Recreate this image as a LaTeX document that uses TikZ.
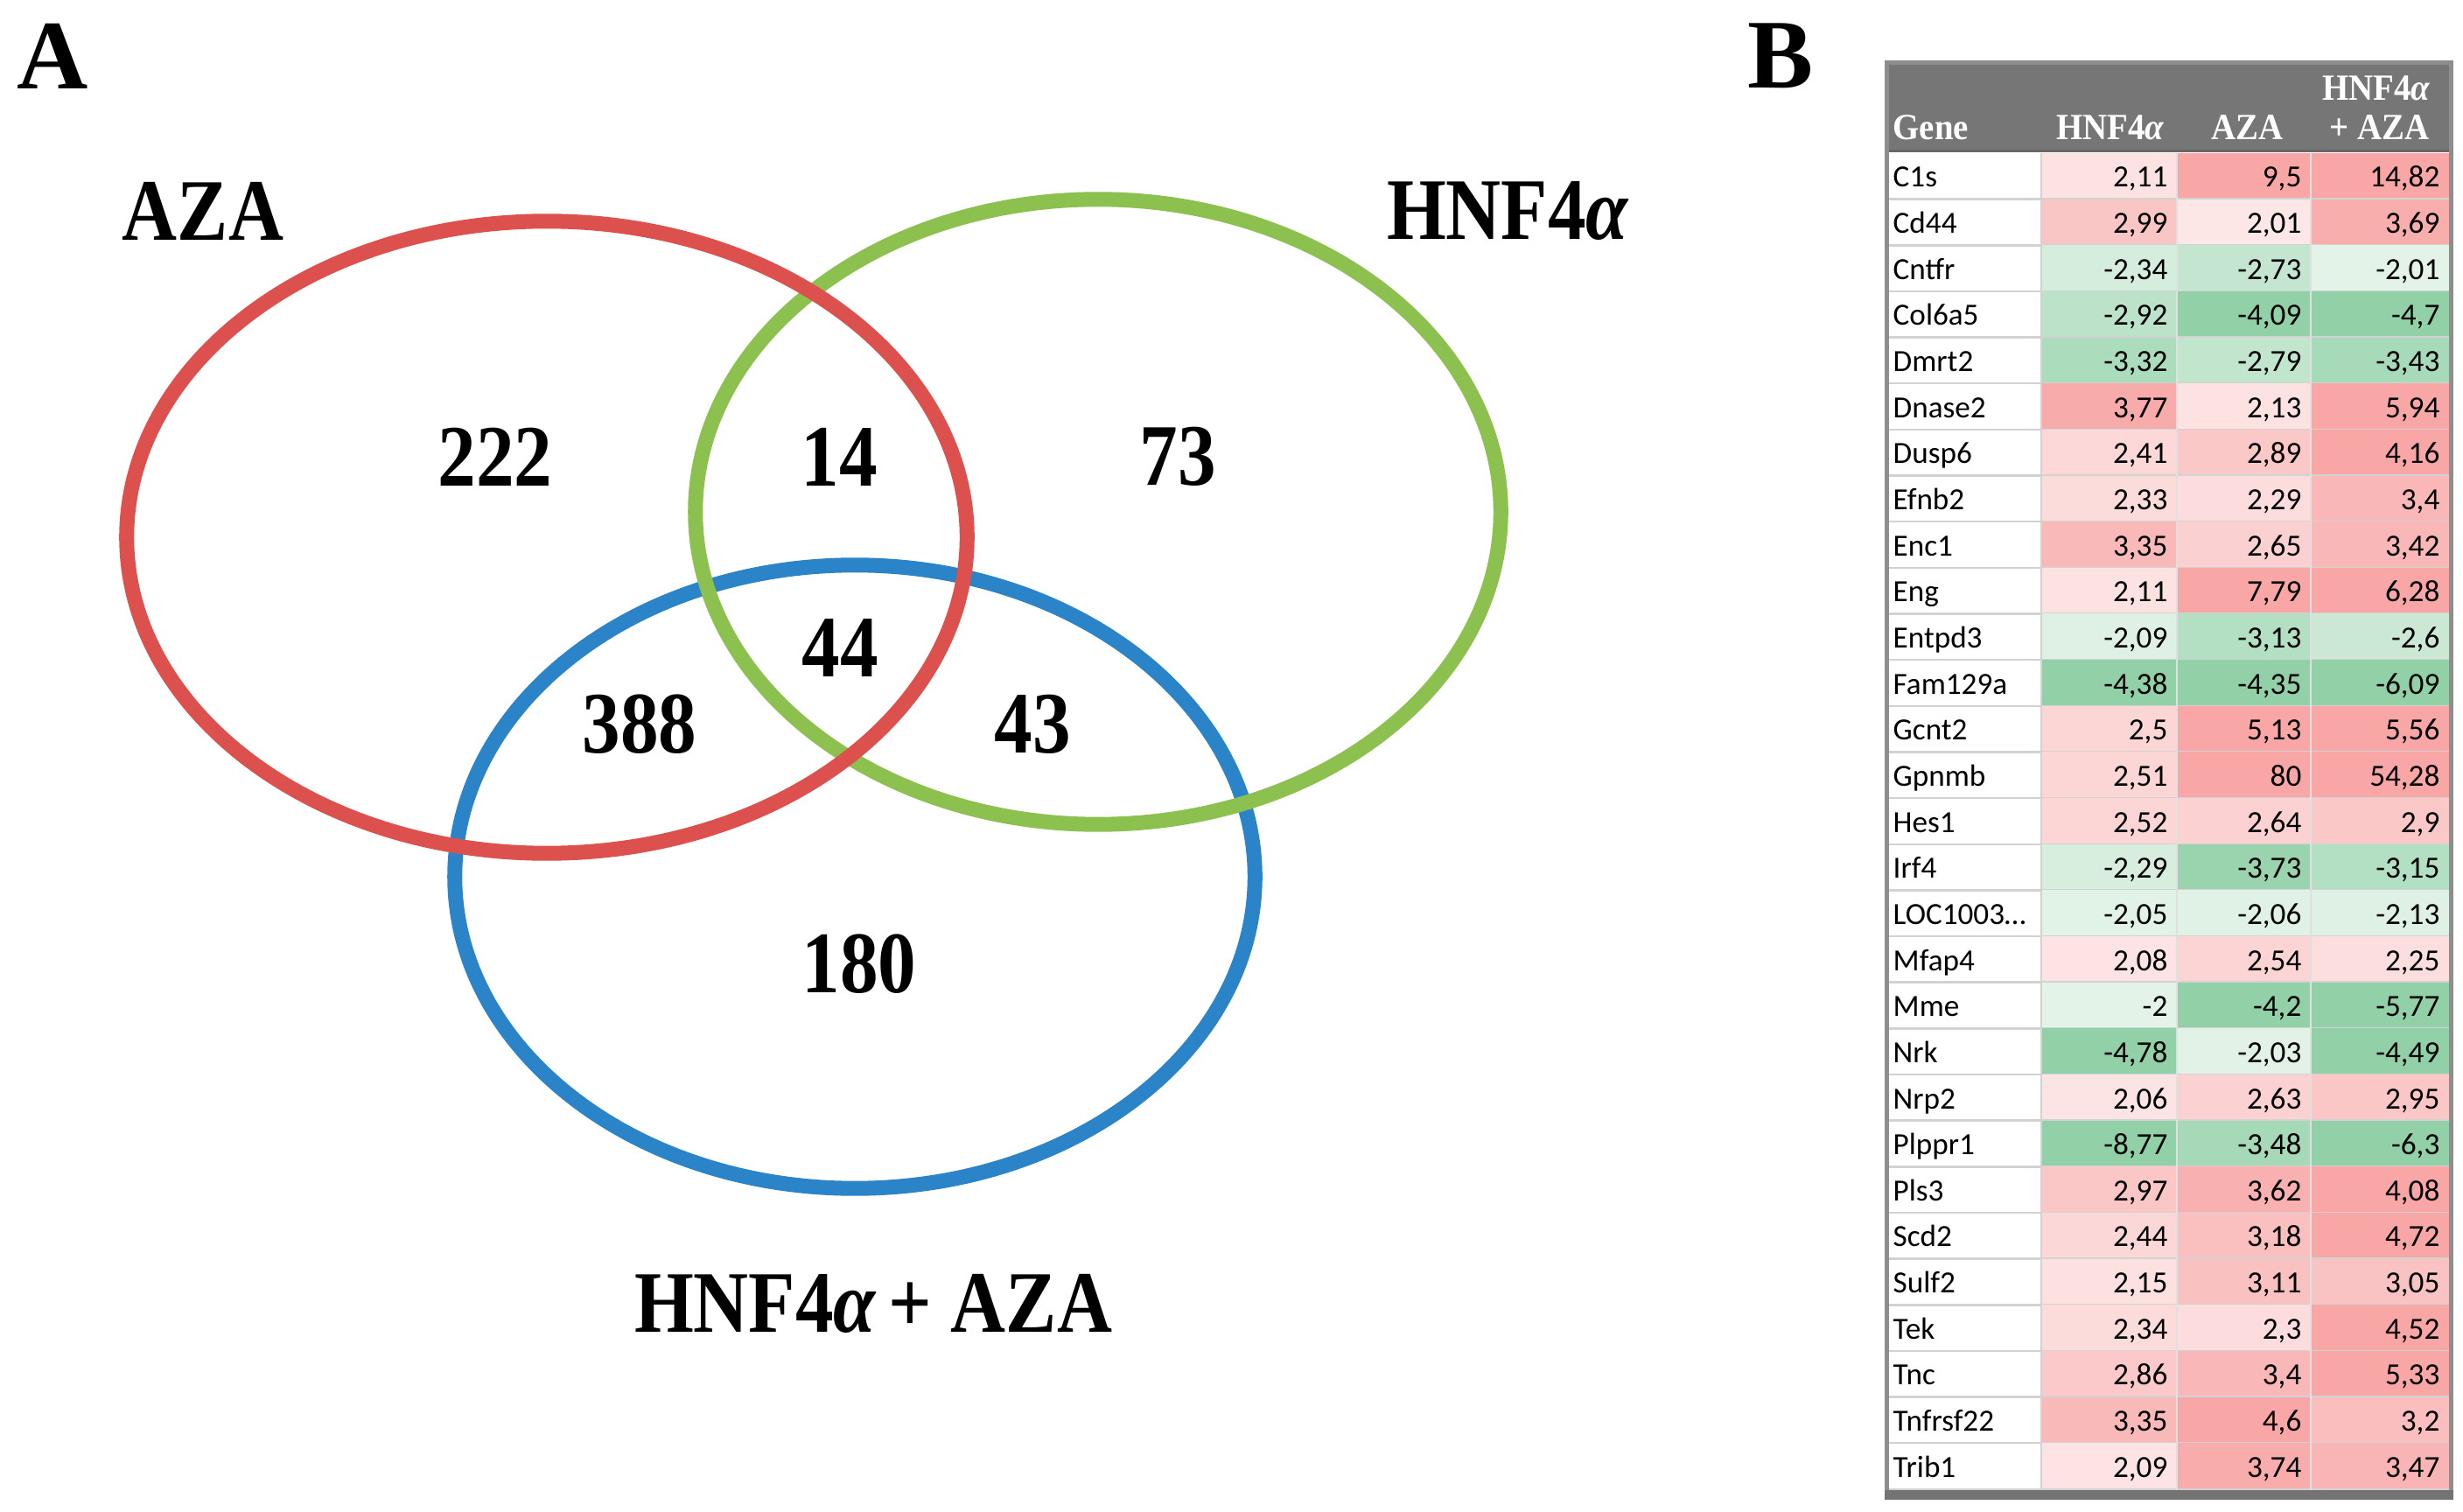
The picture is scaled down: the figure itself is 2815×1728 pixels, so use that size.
\documentclass[tikz,border=0pt]{standalone}
\usepackage{fontspec}
\setmainfont{Liberation Serif}
\newfontfamily\cellfont{Carlito}
\usetikzlibrary{shapes.geometric}

\definecolor{azared}{HTML}{DC504E}
\definecolor{hnfgreen}{HTML}{8CC04F}
\definecolor{combblue}{HTML}{2B83C8}
\definecolor{headgray}{HTML}{767676}
\definecolor{framegray}{HTML}{8E8E8E}
\definecolor{gridgray}{HTML}{D2D2D2}
\definecolor{upstrong}{HTML}{F8A6A6}
\definecolor{upweak}{HTML}{FDE6E6}
\definecolor{downstrong}{HTML}{92D1A8}
\definecolor{downweak}{HTML}{E3F3E8}

\newcommand{\alphait}{{\itshape α}}
\newcommand{\cellshade}[1]{%
  \pgfmathsetmacro\shadeamt{min(100,max(0,(abs(#1)-2)*52))}%
  \ifdim#1pt>0pt\def\shadename{upstrong!\shadeamt!upweak}\else\def\shadename{downstrong!\shadeamt!downweak}\fi}

\begin{document}
\begin{tikzpicture}[x=0.01cm, y=-0.01cm,
  venn set/.style={ellipse, draw, line width=0.17cm, inner sep=0pt},
  venn label/.style={font=\bfseries\fontsize{28.5}{32}\selectfont, xscale=0.87},
  panel label/.style={font=\bfseries\fontsize{32}{36}\selectfont},
  head text/.style={text=white, font=\bfseries\fontsize{12}{14}\selectfont, xscale=0.92, inner sep=0pt},
  gene text/.style={font=\cellfont\fontsize{10}{12}\selectfont, anchor=base west, inner sep=0pt},
  value text/.style={font=\cellfont\fontsize{10}{12}\selectfont, anchor=base east, inner sep=0pt},
  /pgf/number format/fixed, /pgf/number format/precision=2,
  /pgf/number format/use comma, /pgf/number format/assume math mode=true]

  \useasboundingbox (0,0) rectangle (2815,1728);
  \fill[white] (0,0) rectangle (2815,1728);

  \node[panel label] (panelA) at (60,64) {A};
  \node[panel label] (panelB) at (2035,64) {B};

  \node[venn set, draw=combblue, minimum width=9.14cm, minimum height=7.12cm] (bothset) at (977,1002) {};
  \node[venn set, draw=hnfgreen, minimum width=9.20cm, minimum height=7.14cm] (hnfset) at (1255,585) {};
  \node[venn set, draw=azared, minimum width=9.60cm, minimum height=7.22cm] (azaset) at (625,614) {};

  \node[venn label] (azalabel) at (232,241) {AZA};
  \node[venn label] (hnflabel) at (1723,241) {HNF4\alphait};
  \node[venn label] (bothlabel) at (998,1490) {HNF4\alphait\,+ AZA};

  \node[venn label] (n222) at (566,522) {222};
  \node[venn label] (n14) at (959,522) {14};
  \node[venn label] (n73) at (1346,522) {73};
  \node[venn label] (n44) at (960,741) {44};
  \node[venn label] (n388) at (731,828) {388};
  \node[venn label] (n43) at (1180,828) {43};
  \node[venn label] (n180) at (982,1102) {180};

  \fill[headgray] (2154,72) rectangle (2803,173);
  \draw[black!60, line width=0.03cm] (2154,173) -- (2803,173);
  \node[head text, anchor=base west] (headgene) at (2163,160) {Gene};
  \node[head text, anchor=base east] (headhnf) at (2474,160) {HNF4\alphait};
  \node[head text, anchor=base east] (headaza) at (2610,160) {AZA};
  \node[head text, anchor=base east] (headboth) at (2778,115) {HNF4\alphait};
  \node[head text, anchor=base east] (headplus) at (2777,160) {+ AZA};

  \foreach \gene/\hv/\zv/\cv [count=\r from 0] in {
    C1s/2.11/9.5/14.82, Cd44/2.99/2.01/3.69, Cntfr/-2.34/-2.73/-2.01,
    Col6a5/-2.92/-4.09/-4.7, Dmrt2/-3.32/-2.79/-3.43, Dnase2/3.77/2.13/5.94,
    Dusp6/2.41/2.89/4.16, Efnb2/2.33/2.29/3.4, Enc1/3.35/2.65/3.42,
    Eng/2.11/7.79/6.28, Entpd3/-2.09/-3.13/-2.6, Fam129a/-4.38/-4.35/-6.09,
    Gcnt2/2.5/5.13/5.56, Gpnmb/2.51/80/54.28, Hes1/2.52/2.64/2.9,
    Irf4/-2.29/-3.73/-3.15, LOC1003\dots/-2.05/-2.06/-2.13, Mfap4/2.08/2.54/2.25,
    Mme/-2/-4.2/-5.77, Nrk/-4.78/-2.03/-4.49, Nrp2/2.06/2.63/2.95,
    Plppr1/-8.77/-3.48/-6.3, Pls3/2.97/3.62/4.08, Scd2/2.44/3.18/4.72,
    Sulf2/2.15/3.11/3.05, Tek/2.34/2.3/4.52, Tnc/2.86/3.4/5.33,
    Tnfrsf22/3.35/4.6/3.2, Trib1/2.09/3.74/3.47}{
    \pgfmathsetmacro\rowtop{175+52.65*\r}
    \pgfmathsetmacro\rowbot{\rowtop+52.65}
    \pgfmathsetmacro\rowbase{\rowtop+39}
    \cellshade{\hv}
    \fill[fill=\shadename] (2333,\rowtop) rectangle (2488,\rowbot);
    \cellshade{\zv}
    \fill[fill=\shadename] (2488,\rowtop) rectangle (2641,\rowbot);
    \cellshade{\cv}
    \fill[fill=\shadename] (2641,\rowtop) rectangle (2800,\rowbot);
    \draw[gridgray, line width=0.025cm] (2156,\rowbot) -- (2801,\rowbot);
    \node[gene text] (gene\r) at (2163,\rowbase) {\gene};
    \node[value text] (hnf\r) at (2478,\rowbase) {\pgfmathprintnumber{\hv}};
    \node[value text] (aza\r) at (2631,\rowbase) {\pgfmathprintnumber{\zv}};
    \node[value text] (both\r) at (2789,\rowbase) {\pgfmathprintnumber{\cv}};
  }

  \draw[gridgray, line width=0.02cm] (2333,175) -- (2333,1703);
  \draw[white!88!black, line width=0.015cm] (2488,175) -- (2488,1703) (2641,175) -- (2641,1703);
  \draw[framegray, line width=0.05cm] (2156,72) rectangle (2801,1705);
  \fill[black!55] (2154,1703) rectangle (2804,1714);
\end{tikzpicture}
\end{document}
